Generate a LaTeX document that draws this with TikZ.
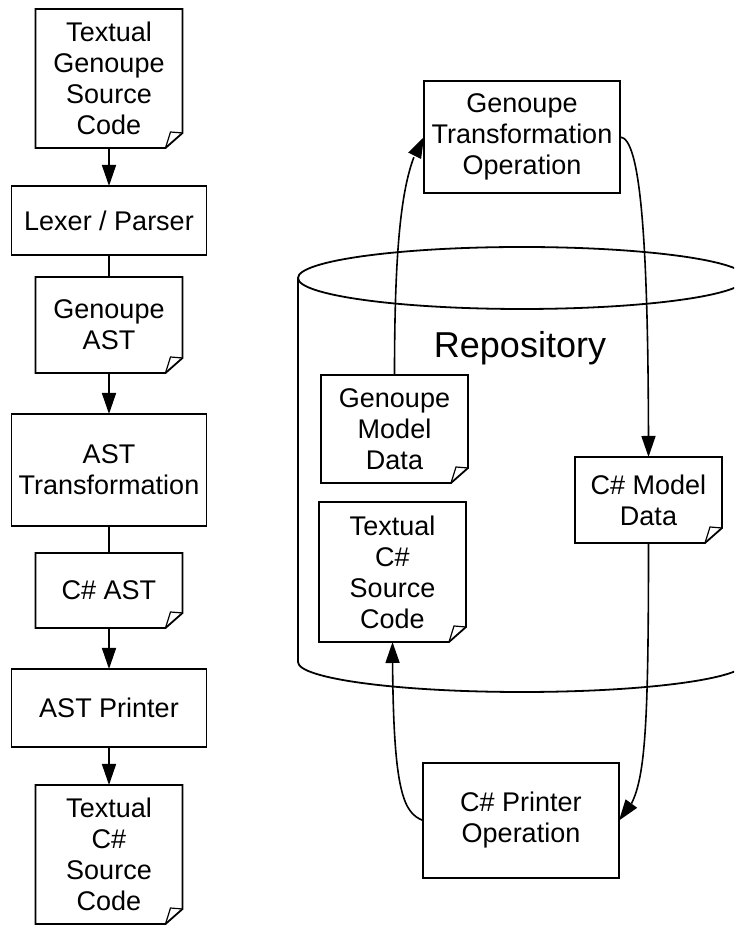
\documentclass[tikz,border=0pt]{standalone}
\usepackage{fontspec}
\setmainfont{Liberation Sans}
\usetikzlibrary{positioning,arrows.meta,bending}

\begin{document}
\begin{tikzpicture}[
    x=1pt, y=1pt,
    node distance=38pt,
    >={Triangle[length=21pt,width=14pt]},
    every node/.style={font=\fontsize{27}{31}\selectfont, align=center, inner sep=0pt, outer sep=0pt},
    box/.style={rectangle, draw, line width=1.8pt, minimum width=195pt},
    doc/.style={rectangle, minimum width=147pt},
    flow/.style={->, line width=1.6pt}
]
    \useasboundingbox (0,0) rectangle (734,926);
    \clip (0,0) rectangle (734,926);

    % Compiler chain
    \node[doc, minimum height=139pt] (src) at (109,847.5) {Textual\\Genoupe\\Source\\Code};
    \node[box, minimum height=69pt, below=38pt of src] (lex) {Lexer / Parser};
    \node[doc, minimum height=96pt, below=22pt of lex] (gast) {Genoupe\\AST};
    \node[box, minimum height=112pt, below=41pt of gast] (astt) {AST\\Transformation};
    \node[doc, minimum height=75pt, below=27pt of astt] (csast) {C\# AST};
    \node[box, minimum height=78pt, below=41pt of csast] (astp) {AST Printer};
    \node[doc, minimum height=139pt, below=38pt of astp] (out) {Textual\\C\#\\Source\\Code};

    % Repository
    \draw[line width=1.8pt] (522,648) ellipse [x radius=224pt, y radius=31pt];
    \draw[line width=1.8pt] (298,648) -- (298,264) arc [start angle=180, end angle=360, x radius=224pt, y radius=30pt] -- (746,648);
    \node[font=\fontsize{36}{40}\selectfont] (repo) at (520,578) {Repository};

    \node[doc, minimum height=108pt] (gmd) at (394.5,497) {Genoupe\\Model\\Data};
    \node[doc, minimum height=140pt] (ccode) at (392.5,354) {Textual\\C\#\\Source\\Code};
    \node[doc, minimum height=86pt] (cmd) at (648.5,426) {C\# Model\\Data};

    % Operations
    \node[box, minimum width=196pt, minimum height=112pt] (gto) at (522,789) {Genoupe\\Transformation\\Operation};
    \node[box, minimum width=196pt, minimum height=115pt] (cpo) at (521,105.5) {C\# Printer\\Operation};

    % Document outlines with folded corner
    \foreach \d in {src,gast,csast,out,gmd,ccode,cmd} {
        \draw[line width=1.8pt] (\d.north west) -- (\d.north east) -- ([yshift=15pt]\d.south east)
            -- ([xshift=-17pt]\d.south east) -- (\d.south west) -- cycle;
        \draw[line width=1.2pt] ([yshift=15pt]\d.south east) -- ([xshift=-12pt,yshift=16pt]\d.south east)
            -- ([xshift=-17pt]\d.south east);
    }

    \draw[flow] (src) -- (lex);
    \draw[line width=1.6pt] (lex) -- (gast);
    \draw[flow] (gast) -- (astt);
    \draw[line width=1.6pt] (astt) -- (csast);
    \draw[flow] (csast) -- (astp);
    \draw[flow] (astp) -- (out);

    % Round trip through the repository
    \draw[flow] (gmd.north) .. controls +(0,150) and +(-20,-30) .. (gto.west);
    \draw[flow] (gto.east) .. controls +(22,0) and +(0,200) .. (cmd.north);
    \draw[flow] (cmd.south) .. controls +(0,-220) and +(25,25) .. (cpo.east);
    \draw[flow] (cpo.west) .. controls +(-20,8) and +(0,-150) .. (ccode.south);
\end{tikzpicture}
\end{document}
